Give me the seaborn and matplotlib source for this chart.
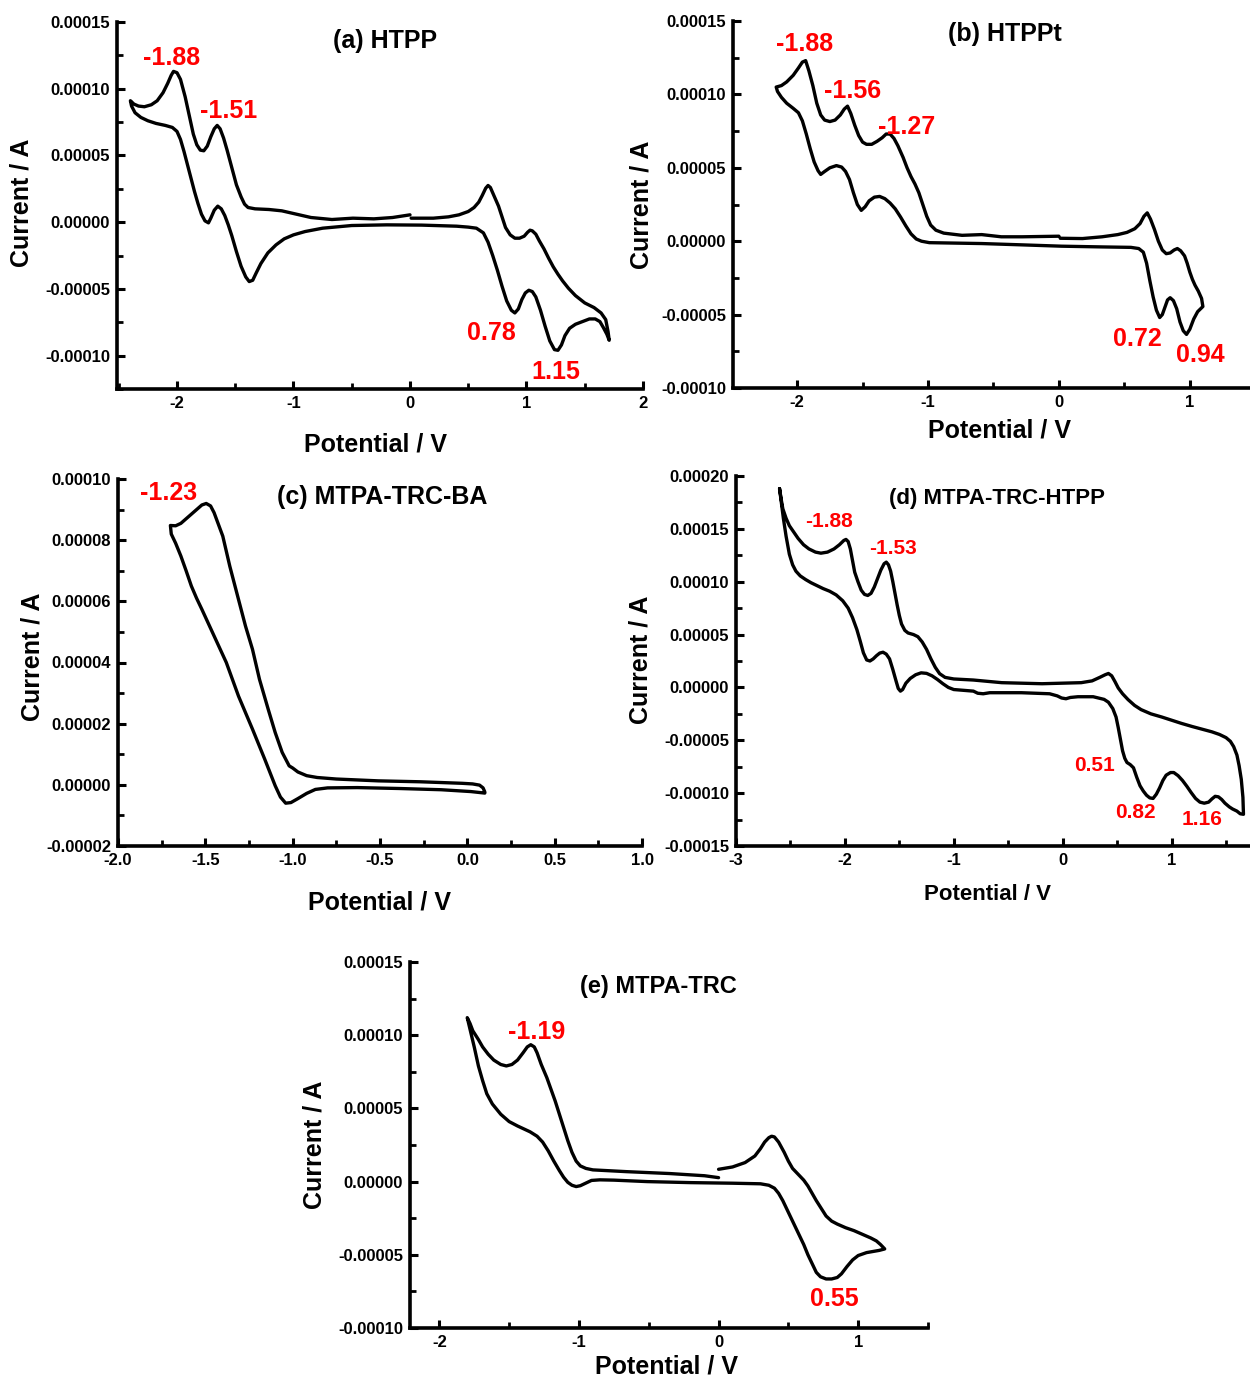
import numpy as np
import matplotlib
matplotlib.use("Agg")
import matplotlib.pyplot as plt
from matplotlib.ticker import MultipleLocator, FormatStrFormatter
import seaborn as sns

# each scan: (potential in V, current in 1e-5 A)
a_scan = [(0, 0.55), (-0.15, 0.35), (-0.31, 0.25), (-0.49, 0.3), (-0.67, 0.2), (-0.85, 0.35),
          (-1.0, 0.65), (-1.1, 0.85), (-1.21, 0.95), (-1.33, 1.0), (-1.39, 1.1), (-1.42, 1.35),
          (-1.45, 1.9), (-1.49, 2.8), (-1.53, 4.1), (-1.57, 5.4), (-1.60, 6.3), (-1.63, 7.0),
          (-1.655, 7.25), (-1.68, 7.0), (-1.71, 6.4), (-1.74, 5.7), (-1.77, 5.35), (-1.80, 5.4),
          (-1.83, 5.8), (-1.86, 6.6), (-1.89, 7.8), (-1.93, 9.4), (-1.97, 10.7), (-2.0, 11.2),
          (-2.03, 11.3), (-2.05, 11.0), (-2.08, 10.4), (-2.12, 9.7), (-2.17, 9.1), (-2.22, 8.8),
          (-2.28, 8.65), (-2.33, 8.7), (-2.37, 8.85), (-2.40, 9.1),
          (-2.39, 8.7), (-2.36, 8.2), (-2.31, 7.85), (-2.25, 7.6), (-2.18, 7.4), (-2.10, 7.25),
          (-2.04, 7.1), (-2.0, 6.8), (-1.97, 6.2), (-1.94, 5.3), (-1.91, 4.3), (-1.88, 3.3),
          (-1.85, 2.3), (-1.82, 1.4), (-1.79, 0.6), (-1.76, 0.1), (-1.73, -0.05), (-1.71, 0.3),
          (-1.68, 0.9), (-1.65, 1.2), (-1.62, 1.0), (-1.59, 0.5), (-1.56, -0.2), (-1.53, -1.0),
          (-1.49, -2.2), (-1.45, -3.3), (-1.41, -4.1), (-1.38, -4.45), (-1.35, -4.35), (-1.32, -3.8),
          (-1.28, -3.1), (-1.22, -2.3), (-1.15, -1.7), (-1.08, -1.25), (-1.0, -0.95), (-0.9, -0.7),
          (-0.75, -0.45), (-0.5, -0.25), (-0.2, -0.2), (0.1, -0.22), (0.4, -0.3), (0.5, -0.37),
          (0.57, -0.45), (0.63, -0.8), (0.67, -1.5), (0.71, -2.5), (0.75, -3.6), (0.79, -4.8),
          (0.83, -5.9), (0.87, -6.6), (0.90, -6.8), (0.93, -6.5), (0.96, -5.8), (0.99, -5.3),
          (1.02, -5.1), (1.05, -5.2), (1.08, -5.6), (1.12, -6.6), (1.16, -7.8), (1.20, -8.9),
          (1.24, -9.55), (1.27, -9.6), (1.30, -9.2), (1.33, -8.5), (1.37, -7.95), (1.42, -7.65),
          (1.48, -7.45), (1.54, -7.25), (1.59, -7.25), (1.63, -7.45), (1.66, -7.9), (1.69, -8.4),
          (1.71, -8.85),
          (1.70, -8.2), (1.68, -7.3), (1.64, -6.8), (1.58, -6.4), (1.50, -6.05), (1.42, -5.5),
          (1.36, -4.95), (1.31, -4.4), (1.27, -3.9), (1.23, -3.35), (1.19, -2.7), (1.15, -2.0),
          (1.11, -1.4), (1.08, -0.9), (1.05, -0.65), (1.03, -0.6), (1.01, -0.75), (0.98, -1.05),
          (0.94, -1.2), (0.90, -1.2), (0.86, -0.95), (0.82, -0.4), (0.79, 0.4), (0.76, 1.2),
          (0.72, 2.0), (0.69, 2.6), (0.67, 2.75), (0.65, 2.55), (0.62, 2.0), (0.59, 1.5),
          (0.55, 1.1), (0.5, 0.8), (0.42, 0.55), (0.33, 0.4), (0.2, 0.3), (0.01, 0.3)]

b_scan = [(0, 0.34), (-0.28, 0.3), (-0.44, 0.3), (-0.59, 0.45), (-0.74, 0.4), (-0.88, 0.55),
          (-0.94, 0.75), (-0.98, 1.1), (-1.01, 1.7), (-1.04, 2.5), (-1.07, 3.3), (-1.10, 3.9),
          (-1.13, 4.4), (-1.16, 5.0), (-1.19, 5.7), (-1.23, 6.5), (-1.26, 7.0), (-1.29, 7.3),
          (-1.32, 7.3), (-1.35, 7.05), (-1.39, 6.8), (-1.43, 6.6), (-1.47, 6.6), (-1.50, 6.75),
          (-1.53, 7.2), (-1.56, 7.9), (-1.59, 8.7), (-1.615, 9.2), (-1.64, 9.0), (-1.67, 8.6),
          (-1.71, 8.25), (-1.75, 8.15), (-1.79, 8.25), (-1.82, 8.6), (-1.85, 9.4), (-1.88, 10.6),
          (-1.91, 11.6), (-1.935, 12.3), (-1.96, 12.2), (-1.99, 11.8), (-2.03, 11.3), (-2.08, 10.85),
          (-2.12, 10.6), (-2.16, 10.5),
          (-2.15, 10.2), (-2.12, 9.8), (-2.08, 9.4), (-2.03, 9.05), (-1.99, 8.75), (-1.96, 8.2),
          (-1.93, 7.3), (-1.90, 6.3), (-1.87, 5.4), (-1.84, 4.8), (-1.82, 4.55), (-1.79, 4.75),
          (-1.75, 5.0), (-1.70, 5.15), (-1.66, 5.05), (-1.63, 4.75), (-1.60, 4.2), (-1.57, 3.3),
          (-1.54, 2.5), (-1.51, 2.1), (-1.48, 2.35), (-1.45, 2.75), (-1.41, 3.0), (-1.37, 3.05),
          (-1.33, 2.9), (-1.29, 2.6), (-1.25, 2.2), (-1.21, 1.65), (-1.17, 1.05), (-1.13, 0.5),
          (-1.09, 0.15), (-1.05, 0), (-0.99, -0.1), (-0.59, -0.16), (-0.28, -0.25), (0.02, -0.34),
          (0.33, -0.39), (0.55, -0.42), (0.61, -0.5), (0.645, -0.75), (0.67, -1.5), (0.695, -2.7),
          (0.72, -3.8), (0.745, -4.7), (0.77, -5.2), (0.79, -5.0), (0.81, -4.5), (0.83, -4.0),
          (0.85, -3.85), (0.875, -4.05), (0.90, -4.6), (0.925, -5.5), (0.95, -6.1), (0.975, -6.35),
          (1.0, -6.0), (1.03, -5.3), (1.06, -4.8), (1.10, -4.45),
          (1.09, -3.9), (1.065, -3.4), (1.04, -3.0), (1.02, -2.6), (1.0, -2.1), (0.98, -1.5),
          (0.96, -1.0), (0.93, -0.65), (0.905, -0.5), (0.88, -0.6), (0.85, -0.8), (0.82, -0.85),
          (0.79, -0.6), (0.76, 0.0), (0.73, 0.8), (0.70, 1.5), (0.675, 1.93), (0.65, 1.7),
          (0.62, 1.2), (0.58, 0.85), (0.52, 0.6), (0.45, 0.45), (0.33, 0.3), (0.18, 0.18),
          (0.01, 0.2)]

c_scan = [(0.10, -0.23), (0.09, -0.1), (0.07, -0.01), (0.03, 0.03), (-0.03, 0.05), (-0.27, 0.1),
          (-0.51, 0.13), (-0.75, 0.19), (-0.86, 0.24), (-0.92, 0.3), (-0.97, 0.42), (-1.0, 0.55),
          (-1.02, 0.62), (-1.06, 1.06), (-1.10, 1.71), (-1.14, 2.47), (-1.19, 3.45), (-1.23, 4.43),
          (-1.27, 5.19), (-1.31, 6.06), (-1.36, 7.15), (-1.40, 8.13), (-1.45, 8.9), (-1.47, 9.12),
          (-1.495, 9.2), (-1.52, 9.15), (-1.56, 8.95), (-1.60, 8.75), (-1.64, 8.55), (-1.67, 8.47),
          (-1.70, 8.48),
          (-1.695, 8.2), (-1.67, 7.9), (-1.64, 7.48), (-1.61, 7.0), (-1.58, 6.5), (-1.55, 6.1),
          (-1.52, 5.74), (-1.45, 4.87), (-1.38, 4.0), (-1.31, 2.9), (-1.23, 1.82), (-1.16, 0.84),
          (-1.10, -0.03), (-1.07, -0.4), (-1.04, -0.6), (-1.01, -0.58), (-0.97, -0.45), (-0.92, -0.28),
          (-0.87, -0.15), (-0.8, -0.1), (-0.63, -0.09), (-0.39, -0.12), (-0.15, -0.16), (0.02, -0.22),
          (0.10, -0.27)]

d_scan = [(-2.60, 18.8), (-2.585, 17.8), (-2.57, 16.9), (-2.54, 16.0), (-2.51, 15.3), (-2.47, 14.7),
          (-2.43, 14.1), (-2.38, 13.5), (-2.33, 13.1), (-2.27, 12.8), (-2.22, 12.7), (-2.16, 12.8),
          (-2.10, 13.1), (-2.05, 13.5), (-2.01, 13.9), (-1.99, 14.0), (-1.97, 13.8), (-1.95, 13.1),
          (-1.93, 12.0), (-1.91, 10.9), (-1.88, 10.0), (-1.85, 9.2), (-1.82, 8.8), (-1.79, 8.7),
          (-1.76, 8.9), (-1.73, 9.5), (-1.70, 10.3), (-1.67, 11.1), (-1.64, 11.7), (-1.62, 11.85),
          (-1.60, 11.6), (-1.58, 11.0), (-1.56, 10.0), (-1.54, 8.9), (-1.52, 7.8), (-1.50, 6.8),
          (-1.48, 6.0), (-1.45, 5.4), (-1.42, 5.15), (-1.37, 5.0), (-1.33, 4.8), (-1.29, 4.3),
          (-1.25, 3.6), (-1.21, 2.7), (-1.17, 1.9), (-1.13, 1.3), (-1.08, 0.95), (-1.0, 0.8),
          (-0.82, 0.7), (-0.56, 0.45), (-0.19, 0.35), (0.17, 0.45), (0.27, 0.62), (0.34, 0.95),
          (0.39, 1.2), (0.42, 1.32), (0.45, 1.1), (0.48, 0.55), (0.51, -0.05), (0.55, -0.6),
          (0.60, -1.15), (0.66, -1.7), (0.72, -2.1), (0.81, -2.5), (0.91, -2.8), (1.0, -3.1),
          (1.09, -3.4), (1.19, -3.7), (1.28, -3.95), (1.37, -4.2), (1.44, -4.45), (1.50, -4.75),
          (1.54, -5.1), (1.57, -5.6), (1.60, -6.4), (1.62, -7.4), (1.64, -8.7), (1.655, -10.4),
          (1.66, -12.0),
          (1.63, -11.95), (1.60, -11.7), (1.56, -11.5), (1.53, -11.3), (1.49, -10.95), (1.46, -10.6),
          (1.43, -10.35), (1.40, -10.3), (1.37, -10.55), (1.34, -10.85), (1.30, -10.95), (1.26, -10.85),
          (1.22, -10.5), (1.18, -9.95), (1.14, -9.35), (1.10, -8.8), (1.06, -8.35), (1.02, -8.05),
          (0.99, -8.05), (0.95, -8.3), (0.92, -8.8), (0.89, -9.5), (0.86, -10.1), (0.83, -10.5),
          (0.80, -10.45), (0.77, -10.2), (0.74, -9.8), (0.71, -9.3), (0.68, -8.5), (0.65, -7.6),
          (0.62, -7.3), (0.59, -7.1), (0.57, -6.7), (0.55, -6.0), (0.53, -4.9), (0.51, -3.8),
          (0.49, -2.8), (0.46, -2.0), (0.42, -1.4), (0.38, -1.13), (0.28, -0.88), (0.14, -0.88),
          (0.07, -0.95), (0.03, -1.07), (-0.01, -1.0), (-0.05, -0.8), (-0.12, -0.6), (-0.38, -0.5),
          (-0.67, -0.5), (-0.73, -0.6), (-0.78, -0.55), (-0.82, -0.35), (-0.9, -0.28), (-1.0, -0.2),
          (-1.05, 0.0), (-1.10, 0.35), (-1.15, 0.75), (-1.20, 1.1), (-1.25, 1.33), (-1.30, 1.38),
          (-1.35, 1.2), (-1.40, 0.85), (-1.44, 0.4), (-1.47, -0.2), (-1.49, -0.35), (-1.51, -0.1),
          (-1.53, 0.6), (-1.56, 1.7), (-1.59, 2.7), (-1.62, 3.15), (-1.65, 3.33), (-1.68, 3.25),
          (-1.71, 3.0), (-1.74, 2.7), (-1.77, 2.5), (-1.80, 2.6), (-1.83, 3.27), (-1.86, 4.4),
          (-1.89, 5.47), (-1.93, 6.6), (-1.97, 7.5), (-2.02, 8.2), (-2.08, 8.75), (-2.14, 9.1),
          (-2.20, 9.35), (-2.25, 9.6), (-2.31, 9.9), (-2.36, 10.2), (-2.41, 10.55), (-2.45, 11.0),
          (-2.48, 11.6), (-2.51, 12.6), (-2.54, 14.3), (-2.565, 16.0), (-2.585, 17.6), (-2.60, 18.8)]

e_scan = [(0, 0.84), (0.10, 1.0), (0.19, 1.3), (0.26, 1.75), (0.30, 2.25), (0.33, 2.7),
          (0.36, 3.0), (0.38, 3.1), (0.40, 3.05), (0.43, 2.7), (0.47, 2.0), (0.50, 1.4),
          (0.53, 0.9), (0.57, 0.5), (0.61, 0.1), (0.64, -0.3), (0.67, -0.8), (0.70, -1.3),
          (0.74, -1.9), (0.77, -2.35), (0.81, -2.7), (0.85, -2.9), (0.91, -3.15), (0.97, -3.35),
          (1.03, -3.6), (1.09, -3.85), (1.13, -4.05), (1.16, -4.3), (1.19, -4.6),
          (1.15, -4.7), (1.06, -4.85), (1.0, -5.05), (0.96, -5.35), (0.92, -5.8), (0.88, -6.3),
          (0.85, -6.55), (0.81, -6.65), (0.77, -6.65), (0.73, -6.5), (0.70, -6.2), (0.67, -5.6),
          (0.64, -5.0), (0.61, -4.3), (0.58, -3.7), (0.55, -3.1), (0.52, -2.5), (0.49, -1.9),
          (0.46, -1.3), (0.43, -0.8), (0.40, -0.45), (0.36, -0.25), (0.30, -0.15), (0.10, -0.11),
          (-0.20, -0.07), (-0.51, 0), (-0.75, 0.1), (-0.85, 0.12), (-0.91, 0.08), (-0.95, -0.1),
          (-0.99, -0.28), (-1.02, -0.34), (-1.05, -0.25), (-1.08, -0.05), (-1.11, 0.3), (-1.14, 0.75),
          (-1.18, 1.4), (-1.22, 2.1), (-1.26, 2.7), (-1.30, 3.1), (-1.35, 3.4), (-1.44, 3.8),
          (-1.50, 4.1), (-1.56, 4.6), (-1.62, 5.3), (-1.66, 6.0), (-1.69, 6.9), (-1.72, 7.9),
          (-1.75, 9.2), (-1.78, 10.4), (-1.80, 11.2),
          (-1.78, 10.8), (-1.76, 10.3), (-1.72, 9.7), (-1.69, 9.2), (-1.65, 8.7), (-1.61, 8.3),
          (-1.56, 8.0), (-1.52, 7.9), (-1.48, 8.0), (-1.44, 8.3), (-1.40, 8.8), (-1.37, 9.2),
          (-1.345, 9.35), (-1.32, 9.2), (-1.30, 8.8), (-1.27, 8.0), (-1.23, 7.1), (-1.20, 6.3),
          (-1.17, 5.5), (-1.14, 4.6), (-1.11, 3.7), (-1.08, 2.8), (-1.05, 2.0), (-1.02, 1.4),
          (-0.99, 1.07), (-0.95, 0.9), (-0.90, 0.8), (-0.66, 0.68), (-0.35, 0.55), (-0.10, 0.4),
          (0, 0.27)]

sns.set_style("ticks")
plt.rcParams['font.family'] = ['Liberation Sans', 'DejaVu Sans']
plt.rcParams['font.weight'] = 'bold'
plt.rcParams['text.color'] = 'black'

W, H = 1250, 1377
fig = plt.figure(figsize=(W / 100, H / 100), dpi=100)


def make_axes(left, top, right, bottom):
    return fig.add_axes([left / W, 1 - bottom / H, (right - left) / W, (bottom - top) / H])


def fig_text(x, y, s, size, rot=0):
    fig.text(x / W, 1 - y / H, s, fontsize=size, fontweight='bold', color='black',
             ha='center', va='center', rotation=rot)


def style(ax, xlim, ylim, xmaj, ymaj, xfmt):
    ax.set_xlim(*xlim)
    ax.set_ylim(*ylim)
    ax.xaxis.set_major_locator(MultipleLocator(xmaj))
    ax.xaxis.set_minor_locator(MultipleLocator(xmaj / 2))
    ax.yaxis.set_major_locator(MultipleLocator(ymaj))
    ax.yaxis.set_minor_locator(MultipleLocator(ymaj / 2))
    ax.xaxis.set_major_formatter(FormatStrFormatter(xfmt))
    ax.yaxis.set_major_formatter(FormatStrFormatter('%.5f'))
    for s in ['top', 'right']:
        ax.spines[s].set_visible(False)
    for s in ['left', 'bottom']:
        ax.spines[s].set_linewidth(2.6)
        ax.spines[s].set_color('black')
    ax.tick_params(which='major', direction='in', length=6, width=2.2,
                   labelsize=12, pad=5, colors='black')
    ax.tick_params(which='minor', direction='in', length=4, width=2.0, colors='black')
    ax.set_xlabel('')
    ax.set_ylabel('')


def draw(ax, scan):
    pot = np.array([p for p, c in scan])
    cur = np.array([c for p, c in scan]) * 1e-5
    sns.lineplot(x=pot, y=cur, sort=False, estimator=None,
                 color='black', linewidth=2.4, ax=ax)
    ax.lines[-1].set_solid_joinstyle('round')
    ax.lines[-1].set_solid_capstyle('round')


def note(ax, x, y, s, size=18):
    ax.text(x, y * 1e-5, s, color='#ff0000', fontsize=size, fontweight='bold',
            ha='center', va='center')


def title(ax, x, y, s, size):
    ax.text(x, y * 1e-5, s, color='black', fontsize=size, fontweight='bold',
            ha='center', va='center')


# panel (a)
ax_a = make_axes(117, 22, 643, 389)
draw(ax_a, a_scan)
style(ax_a, (-2.515, 2.0), (-0.000125, 0.00015), 1, 0.00005, '%d')
title(ax_a, -0.21, 13.6, '(a) HTPP', 18)
note(ax_a, -2.05, 12.3, '-1.88')
note(ax_a, -1.56, 8.3, '-1.51')
note(ax_a, 0.70, -8.3, '0.78')
note(ax_a, 1.25, -11.2, '1.15')
fig_text(22, 203, 'Current / A', 18, 90)
fig_text(375, 445, 'Potential / V', 18)

# panel (b)
ax_b = make_axes(733, 21, 1250, 388)
draw(ax_b, b_scan)
style(ax_b, (-2.49, 1.46), (-0.0001, 0.00015), 1, 0.00005, '%d')
title(ax_b, -0.41, 14.1, '(b) HTPPt', 18)
note(ax_b, -1.94, 13.4, '-1.88')
note(ax_b, -1.58, 10.2, '-1.56')
note(ax_b, -1.16, 7.8, '-1.27')
note(ax_b, 0.60, -6.67, '0.72')
note(ax_b, 1.08, -7.76, '0.94')
fig_text(642, 205, 'Current / A', 18, 90)
fig_text(1000, 431, 'Potential / V', 18)

# panel (c)
ax_c = make_axes(118, 479, 642, 846)
draw(ax_c, c_scan)
style(ax_c, (-2.0, 1.0), (-0.00002, 0.0001), 0.5, 0.00002, '%.1f')
title(ax_c, -0.49, 9.41, '(c) MTPA-TRC-BA', 18)
note(ax_c, -1.71, 9.54, '-1.23')
fig_text(32, 657, 'Current / A', 18, 90)
fig_text(380, 903, 'Potential / V', 18)

# panel (d)
ax_d = make_axes(736, 476, 1250, 846)
draw(ax_d, d_scan)
style(ax_d, (-3.0, 1.72), (-0.00015, 0.0002), 1, 0.00005, '%d')
title(ax_d, -0.6, 17.9, '(d) MTPA-TRC-HTPP', 16)
note(ax_d, -2.15, 15.7, '-1.88', 15)
note(ax_d, -1.56, 13.1, '-1.53', 15)
note(ax_d, 0.29, -7.36, '0.51', 15)
note(ax_d, 0.67, -11.8, '0.82', 15)
note(ax_d, 1.28, -12.5, '1.16', 15)
fig_text(641, 660, 'Current / A', 18, 90)
fig_text(988, 895, 'Potential / V', 16)

# panel (e)
ax_e = make_axes(410, 962, 928, 1328)
draw(ax_e, e_scan)
style(ax_e, (-2.21, 1.5), (-0.0001, 0.00015), 1, 0.00005, '%d')
title(ax_e, -0.43, 13.3, '(e) MTPA-TRC', 17)
note(ax_e, -1.30, 10.2, '-1.19')
note(ax_e, 0.83, -8.05, '0.55')
fig_text(314, 1145, 'Current / A', 18, 90)
fig_text(666, 1366, 'Potential / V', 18)

fig.savefig('out.png', dpi=100)
